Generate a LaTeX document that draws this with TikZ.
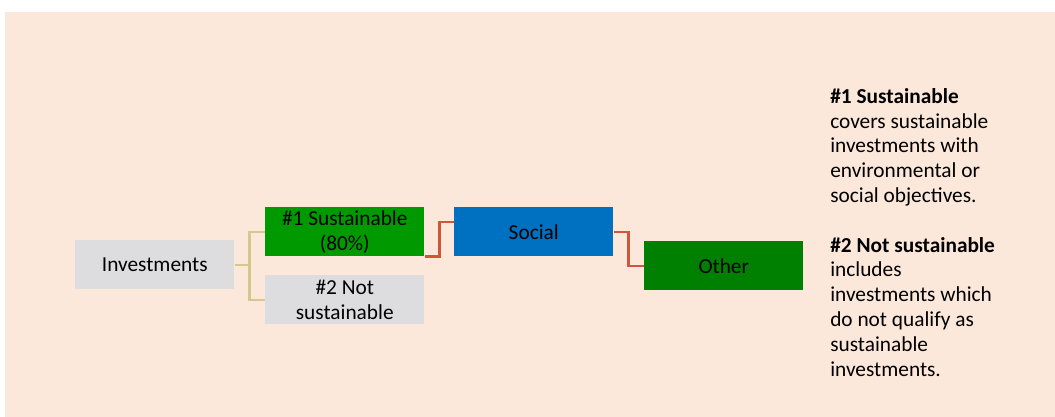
\documentclass[tikz,border=0pt]{standalone}
\usepackage{fontspec}
\setmainfont{Carlito}
\usetikzlibrary{calc}
\definecolor{bgpeach}{HTML}{FCE8DA}
\definecolor{boxgray}{HTML}{DDDDDF}
\definecolor{susgreen}{HTML}{009900}
\definecolor{socblue}{HTML}{0070C0}
\definecolor{othgreen}{HTML}{008000}
\definecolor{tanline}{HTML}{D5C88C}
\definecolor{redline}{HTML}{D0563A}
\tikzset{
  box/.style={minimum width=159*0.75pt, minimum height=49*0.75pt, inner sep=0pt, align=center, font=\fontsize{16}{18.7}\selectfont, text=black},
  tanconn/.style={draw=tanline, line width=1.6pt},
  redconn/.style={draw=redline, line width=1.6pt},
}
\begin{document}
\begin{tikzpicture}[x=0.75pt,y=-0.75pt]
\useasboundingbox (0,0) rectangle (1055,417);
\fill[bgpeach] (5,12) rectangle (1055,417);
\node[box, fill=boxgray, anchor=north west] (inv) at (75,240) {Investments};
\node[box, fill=susgreen, anchor=north west] (sus) at (265,207) {\#1 Sustainable\\(80\%)};
\node[box, fill=boxgray, anchor=north west] (not) at (265,275) {\#2 Not\\sustainable};
\node[box, fill=socblue, anchor=north west] (soc) at (454,207) {Social};
\node[box, fill=othgreen, anchor=north west] (oth) at (644,241) {Other};
\coordinate (tj) at (249.5,265);
\draw[tanconn] (inv.east) -- (inv.east -| tj) |- (sus.west);
\draw[tanconn] (inv.east -| tj) |- (not.west);
\draw[redconn] (sus.south east) -- ++(15,0) |- ($(soc.north west)!0.3!(soc.south west)$);
\draw[redconn] (soc.east) -- ++(15,0) |- (oth.west);
\node[anchor=north west, align=left, inner sep=0pt,
  font=\fontsize{16}{18.6}\selectfont] (txt) at (830,88)
{\textbf{\#1 Sustainable}\\
covers sustainable\\
investments with\\
environmental or\\
social objectives.\\[18.6pt]
\textbf{\#2 Not sustainable}\\
includes\\
investments which\\
do not qualify as\\
sustainable\\
investments.};
\end{tikzpicture}
\end{document}
